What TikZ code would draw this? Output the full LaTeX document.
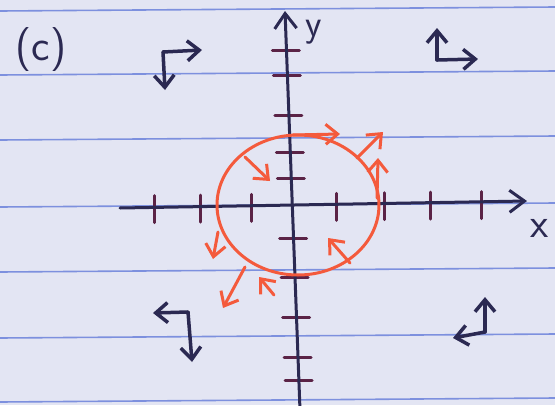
\documentclass[tikz,border=0pt]{standalone}
\usetikzlibrary{arrows.meta}
\definecolor{paper}{HTML}{E3E5F3}
\definecolor{rule}{HTML}{7D90DE}
\definecolor{ink}{HTML}{2B2952}
\definecolor{tickink}{HTML}{5B2346}
\definecolor{pen}{HTML}{F45A3C}

\begin{document}
\begin{tikzpicture}[x=1pt,y=-1pt,line cap=round,line join=round,
  axis/.style={draw=ink,line width=3pt,-{Straight Barb[length=15pt,width=22pt]}},
  tickmark/.style={draw=tickink,line width=3pt},
  field/.style={draw=pen,line width=3pt,-{Straight Barb[length=12pt,width=20pt]}},
  frame/.style={draw=ink,line width=3.5pt,-{Straight Barb[length=12pt,width=20pt]}},
  hand/.style={text=ink,inner sep=0pt}]
  \useasboundingbox (0,0) rectangle (555,405);
  \fill[paper] (0,0) rectangle (555,405);
  % ruled paper
  \foreach \r in {11,75,140,207,272,338,402}
    \draw[rule,line width=1.6pt] (0,\r) -- (555,\r-4);

  % ticks
  \foreach \t in {154,200,251,336,384,430,481}
    \draw[tickmark] (\t,{208-5*(\t-120)/405-12}) -- (\t,{208-5*(\t-120)/405+15});
  \foreach \t in {50,75,115,152,178,238,277,317,357,380}
    \draw[tickmark] ({285+15*(\t-12)/393-14},\t) -- ({285+15*(\t-12)/393+13},\t);

  % axes
  \coordinate (xl) at (120,208);
  \coordinate (xr) at (527,201);
  \coordinate (yb) at (300,410);
  \coordinate (yt) at (285,11);
  \draw[axis] (xl) -- (xr);
  \draw[axis] (yb) -- (yt);
  \node[hand,font=\sffamily\fontsize{42}{42}\selectfont] (xlab) at (540,228) {x};
  \node[hand,font=\sffamily\fontsize{38}{38}\selectfont] (ylab) at (314,32) {y};
  \node[hand,font=\sffamily\fontsize{44}{44}\selectfont] (part) at (41,50) {(c)};

  % circle and field
  \draw[pen,line width=3pt] (298,205) ellipse [x radius=81,y radius=70];
  \draw[field] (293,135) -- (340,134);
  \draw[field] (357,158) -- (383,132);
  \draw[field] (377,198) -- (378,158);
  \draw[field] (245,157) -- (270,181);
  \draw[field] (350,263) -- (328,238);
  \draw[field] (218,232) -- (213,259);
  \draw[field] (245,267) -- (223,308);
  \draw[field] (274,295) -- (259,277);

  % frames in the corners
  \foreach \cx/\cy/\ax/\ay/\bx/\by in {163/52/202/50/165/90, 437/60/437/28/478/59,
      188/312/153/313/192/362, 485/332/485/297/453/338}{
    \coordinate (c) at (\cx,\cy);
    \draw[frame] (c) -- (\ax,\ay);
    \draw[frame] (c) -- (\bx,\by);
  }
\end{tikzpicture}
\end{document}
